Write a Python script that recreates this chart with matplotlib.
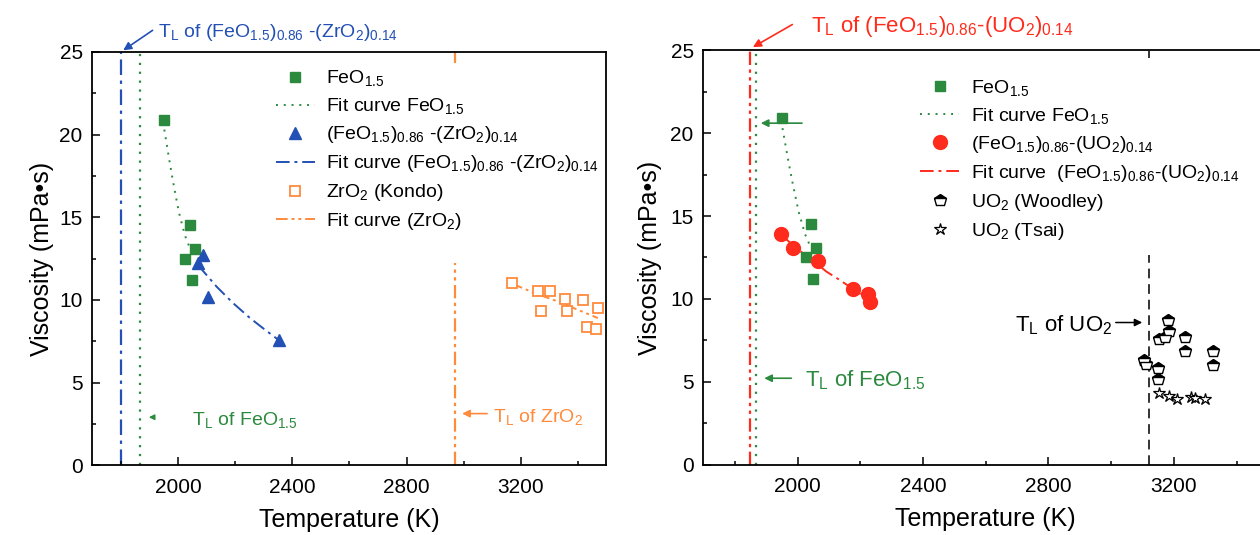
import matplotlib
matplotlib.use('Agg')
import matplotlib.pyplot as plt
import matplotlib.patches as patches
from matplotlib.ticker import MultipleLocator

plt.rcParams['font.family'] = ['Liberation Sans', 'DejaVu Sans']
plt.rcParams['mathtext.fontset'] = 'custom'
plt.rcParams['mathtext.rm'] = 'Liberation Sans'
plt.rcParams['mathtext.it'] = 'Liberation Sans:italic'
plt.rcParams['mathtext.default'] = 'regular'

GREEN = '#2b8a3e'
BLUE = '#2350b4'
ORANGE = '#ff8a3c'
RED = '#ff2b1c'

# ─── data ────────────────────────────────────────────────────────────────────
# FeO1.5
feo_T = [1950, 2026, 2042, 2049, 2058]
feo_eta = [20.9, 12.5, 14.5, 11.2, 13.1]
feo_fit_T = [1952, 1968, 1982, 2003, 2024, 2040]
feo_fit_eta = [20.3, 18.6, 17.2, 15.3, 13.9, 13.2]

# (FeO1.5)0.86-(ZrO2)0.14
fz_T = [2071, 2088, 2104, 2354]
fz_eta = [12.2, 12.7, 10.2, 7.6]
fz_fit_T = [2070, 2135, 2193, 2252, 2304, 2350]
fz_fit_eta = [12.1, 10.8, 9.8, 8.9, 8.2, 7.6]

# ZrO2 (Kondo)
zr_T = [3168, 3262, 3301, 3272, 3354, 3362, 3418, 3432, 3470, 3465]
zr_eta = [11.0, 10.55, 10.55, 9.35, 10.04, 9.35, 9.97, 8.36, 9.52, 8.22]
zr_fit_T = [3167, 3250, 3330, 3400, 3470]
zr_fit_eta = [11.0, 10.4, 9.9, 9.4, 8.9]

# (FeO1.5)0.86-(UO2)0.14
fu_T = [1946, 1984, 2065, 2177, 2224, 2232]
fu_eta = [13.9, 13.1, 12.3, 10.6, 10.3, 9.8]
fu_fit_T = [1946, 2000, 2050, 2092, 2134, 2177, 2232]
fu_fit_eta = [13.9, 13.0, 12.3, 11.65, 11.15, 10.6, 9.9]

# UO2
wood_T = [3182, 3186, 3152, 3171, 3237, 3237, 3324, 3324, 3106, 3110, 3150, 3148]
wood_eta = [8.73, 8.09, 7.57, 7.73, 7.70, 6.89, 6.89, 6.03, 6.32, 6.08, 5.81, 5.15]
tsai_T = [3152, 3184, 3210, 3256, 3269, 3299]
tsai_eta = [4.31, 4.15, 3.99, 4.07, 4.03, 3.99]

# liquidus temperatures
TL_fz = 1800
TL_feo = 1868
TL_zr = 2970
TL_fu = 1850
TL_uo2 = 3120

xticks = [2000, 2400, 2800, 3200]

DASHDOT = (0, (7, 2.5, 1.5, 2.5))
DASHDOTDOT = (0, (6, 2, 1.5, 2, 1.5, 2))
DOTTED = (0, (1, 3))


def style_axes(ax, ylpad):
    ax.set_xlim(1700, 3500)
    ax.set_ylim(0, 25)
    ax.set_xticks(xticks)
    ax.xaxis.set_minor_locator(MultipleLocator(200))
    ax.yaxis.set_major_locator(MultipleLocator(5))
    ax.yaxis.set_minor_locator(MultipleLocator(2.5))
    ax.tick_params(which='both', direction='in', width=1.1, labelsize=15)
    ax.tick_params(which='major', length=6)
    ax.tick_params(which='minor', length=3)
    ax.tick_params(axis='x', pad=9)
    ax.tick_params(axis='y', pad=7)
    for s in ax.spines.values():
        s.set_linewidth(1.3)
    ax.set_xlabel('Temperature (K)', fontsize=18, labelpad=8)
    ax.set_ylabel('Viscosity (mPa\u2022s)', fontsize=18, labelpad=ylpad)


fig = plt.figure(figsize=(12.6, 5.35), dpi=100, facecolor='white')
ax1 = fig.add_axes([0.0733, 0.1305, 0.408, 0.7725])
ax2 = fig.add_axes([0.5583, 0.1312, 0.448, 0.775])

# ─── left panel ──────────────────────────────────────────────────────────────
style_axes(ax1, 4)
ax1.axvline(TL_fz, color=BLUE, ls=DASHDOT, lw=1.6, zorder=1)
ax1.axvline(TL_feo, color=GREEN, ls=DOTTED, lw=1.6, zorder=1)
ax1.axvline(TL_zr, color=ORANGE, ls=DASHDOTDOT, lw=1.6, zorder=1)

ax1.add_patch(patches.Rectangle((0.345, 0.49), 0.64, 0.482, transform=ax1.transAxes,
                                facecolor='white', edgecolor='none', zorder=1.5))

h1 = []
h1 += ax1.plot(feo_T, feo_eta, 's', color=GREEN, ms=7, zorder=3, label=r'FeO$_{1.5}$')
h1 += ax1.plot(feo_fit_T, feo_fit_eta, color=GREEN, ls=DOTTED, lw=1.4, zorder=2,
               label=r'Fit curve FeO$_{1.5}$')
h1 += ax1.plot(fz_T, fz_eta, '^', color=BLUE, ms=9, zorder=3,
               label=r'(FeO$_{1.5}$)$_{0.86}$ -(ZrO$_2$)$_{0.14}$')
h1 += ax1.plot(fz_fit_T, fz_fit_eta, color=BLUE, ls=DASHDOT, lw=1.4, zorder=2,
               label=r'Fit curve (FeO$_{1.5}$)$_{0.86}$ -(ZrO$_2$)$_{0.14}$')
h1 += ax1.plot(zr_T, zr_eta, 's', mfc='white', mec=ORANGE, mew=1.3, ms=7, zorder=3,
               label=r'ZrO$_2$ (Kondo)')
h1 += ax1.plot(zr_fit_T, zr_fit_eta, color=ORANGE, ls=DASHDOTDOT, lw=1.4, zorder=2,
               label=r'Fit curve (ZrO$_2$)')
ax1.legend(handles=h1, loc='upper left', bbox_to_anchor=(0.357, 0.96), frameon=False,
           fontsize=14, handlelength=2.0, handletextpad=0.6, labelspacing=0.41,
           borderpad=0, borderaxespad=0).set_zorder(5)

ax1.annotate('', xy=(TL_fz, 25), xytext=(1919, 26.4), annotation_clip=False,
             arrowprops=dict(arrowstyle='-|>', color=BLUE, lw=1.2, mutation_scale=12))
ax1.text(1930, 26.2, r'T$_L$ of (FeO$_{1.5}$)$_{0.86}$ -(ZrO$_2$)$_{0.14}$', color=BLUE,
         fontsize=14, ha='left', va='center', clip_on=False)
ax1.annotate('', xy=(1888, 2.9), xytext=(1922, 2.9),
             arrowprops=dict(arrowstyle='-|>', color=GREEN, lw=1.0, mutation_scale=8))
ax1.text(2050, 2.45, r'T$_L$ of FeO$_{1.5}$', color=GREEN, fontsize=14,
         ha='left', va='baseline')
ax1.annotate('', xy=(2985, 3.12), xytext=(3092, 3.12),
             arrowprops=dict(arrowstyle='-|>', color=ORANGE, lw=1.2, mutation_scale=11))
ax1.text(3104, 2.64, r'T$_L$ of ZrO$_2$', color=ORANGE, fontsize=14,
         ha='left', va='baseline')

# ─── right panel ─────────────────────────────────────────────────────────────
style_axes(ax2, 6)
ax2.axvline(TL_fu, color=RED, ls=DASHDOTDOT, lw=1.6, zorder=1)
ax2.axvline(TL_feo, color=GREEN, ls=DOTTED, lw=1.6, zorder=1)
ax2.axvline(TL_uo2, color='#333333', ls=(0, (5, 3)), lw=1.4, zorder=1)

ax2.add_patch(patches.Rectangle((0.37, 0.505), 0.63, 0.477, transform=ax2.transAxes,
                                facecolor='white', edgecolor='none', zorder=1.5))

h2 = []
h2 += ax2.plot(feo_T, feo_eta, 's', color=GREEN, ms=7, zorder=3, label=r'FeO$_{1.5}$')
h2 += ax2.plot(feo_fit_T, feo_fit_eta, color=GREEN, ls=DOTTED, lw=1.4, zorder=2,
               label=r'Fit curve FeO$_{1.5}$')
h2 += ax2.plot(fu_T, fu_eta, 'o', color=RED, ms=10, zorder=3,
               label=r'(FeO$_{1.5}$)$_{0.86}$-(UO$_2$)$_{0.14}$')
h2 += ax2.plot(fu_fit_T, fu_fit_eta, color=RED, ls=DASHDOT, lw=1.4, zorder=2,
               label=r'Fit curve  (FeO$_{1.5}$)$_{0.86}$-(UO$_2$)$_{0.14}$')
h2 += ax2.plot(wood_T, wood_eta, 'p', fillstyle='top', mfc='black', mfcalt='white',
               mec='black', mew=1.0, ms=9, ls='none', zorder=3, label=r'UO$_2$ (Woodley)')
h2 += ax2.plot(tsai_T, tsai_eta, '*', mfc='white', mec='black', mew=0.9, ms=9,
               ls='none', zorder=3, label=r'UO$_2$ (Tsai)')
ax2.legend(handles=h2, loc='upper left', bbox_to_anchor=(0.384, 0.933), frameon=False,
           fontsize=14, handlelength=2.0, handletextpad=0.6, labelspacing=0.41,
           borderpad=0, borderaxespad=0).set_zorder(5)

ax2.annotate('', xy=(TL_fu, 25.1), xytext=(1991, 26.63), annotation_clip=False,
             arrowprops=dict(arrowstyle='-|>', color=RED, lw=1.2, mutation_scale=12))
ax2.text(2044, 26.12, r'T$_L$ of (FeO$_{1.5}$)$_{0.86}$-(UO$_2$)$_{0.14}$', color=RED,
         fontsize=16, ha='left', va='baseline', clip_on=False)
ax2.annotate('', xy=(1874, 20.6), xytext=(2023, 20.6),
             arrowprops=dict(arrowstyle='-|>', color=GREEN, lw=1.2, mutation_scale=11))
ax2.annotate('', xy=(1885, 5.22), xytext=(1989, 5.22),
             arrowprops=dict(arrowstyle='-|>', color=GREEN, lw=1.2, mutation_scale=11))
ax2.text(2023, 4.71, r'T$_L$ of FeO$_{1.5}$', color=GREEN, fontsize=16,
         ha='left', va='baseline')
ax2.annotate('', xy=(3108, 8.58), xytext=(3006, 8.58),
             arrowprops=dict(arrowstyle='-|>', color='black', lw=1.1, mutation_scale=11))
ax2.text(2693, 8.07, r'T$_L$ of UO$_2$', color='black', fontsize=16,
         ha='left', va='baseline')

fig.savefig('out.png', dpi=100, facecolor='white')
